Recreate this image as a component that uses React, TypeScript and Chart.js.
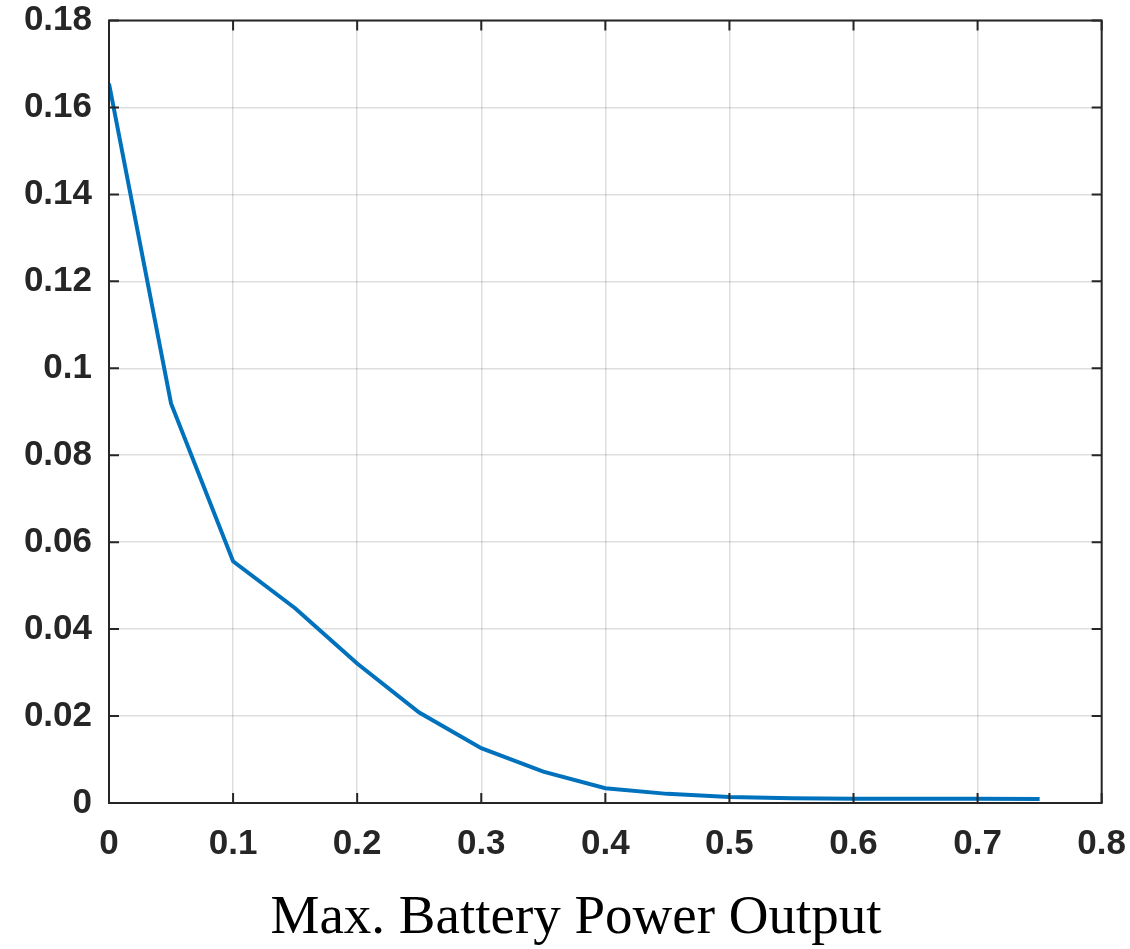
import React, { useEffect, useRef } from "react";
import { Chart, registerables } from "chart.js";

Chart.register(...registerables);

const xValues = [0, 0.05, 0.1, 0.15, 0.2, 0.25, 0.3, 0.35, 0.4, 0.45, 0.5, 0.55, 0.6, 0.65, 0.7, 0.75];
const yValues = [0.1655, 0.0919, 0.0556, 0.0448, 0.0321, 0.0208, 0.0126, 0.0072, 0.0034, 0.0021, 0.0014, 0.0011, 0.001, 0.001, 0.001, 0.0009];
const xTicks = [0, 0.1, 0.2, 0.3, 0.4, 0.5, 0.6, 0.7, 0.8];
const yTicks = [0, 0.02, 0.04, 0.06, 0.08, 0.1, 0.12, 0.14, 0.16, 0.18];
const xTitle = "Max. Battery Power Output";

const AXIS_COLOR = "#262626";
const OFFSET_Y = 14;
const CANVAS_W = 1150;
const CANVAS_H = 949 + OFFSET_Y;

const framePlugin = {
  id: "frame",
  afterDraw(chart: any) {
    const { ctx, chartArea } = chart;
    const { left, right, top, bottom } = chartArea;
    const xs = chart.scales.x;
    const ys = chart.scales.y;
    ctx.save();
    ctx.strokeStyle = AXIS_COLOR;
    ctx.lineWidth = 2;
    ctx.beginPath();
    ctx.rect(left, top, right - left, bottom - top);
    ctx.stroke();
    const tl = 10;
    ctx.beginPath();
    for (const v of xTicks) {
      const px = xs.getPixelForValue(v);
      ctx.moveTo(px, bottom);
      ctx.lineTo(px, bottom - tl);
      ctx.moveTo(px, top);
      ctx.lineTo(px, top + tl);
    }
    for (const v of yTicks) {
      const py = ys.getPixelForValue(v);
      ctx.moveTo(left, py);
      ctx.lineTo(left + tl, py);
      ctx.moveTo(right, py);
      ctx.lineTo(right - tl, py);
    }
    ctx.stroke();
    ctx.fillStyle = "#000";
    ctx.font = '55px "Liberation Serif", serif';
    ctx.textAlign = "center";
    ctx.textBaseline = "middle";
    ctx.fillText(xTitle, 576, 919 + OFFSET_Y);
    ctx.restore();
  },
};

export default function App() {
  const ref = useRef<HTMLCanvasElement | null>(null);
  useEffect(() => {
    if (!ref.current) return;
    const tickFont = { family: '"Liberation Sans", Arial, sans-serif', size: 35, weight: "bold" as const, lineHeight: 1 };
    const chart = new Chart(ref.current, {
      type: "line",
      data: {
        datasets: [
          {
            data: xValues.map((x, i) => ({ x, y: yValues[i] })),
            borderColor: "#0072BD",
            borderWidth: 4,
            pointRadius: 0,
            fill: false,
            tension: 0,
          },
        ],
      },
      options: {
        responsive: false,
        animation: false,
        layout: { padding: { left: 0, right: 0, top: 2, bottom: 0 } },
        plugins: { legend: { display: false }, tooltip: { enabled: false } },
        scales: {
          x: {
            type: "linear",
            min: 0,
            max: 0.8,
            afterBuildTicks: (s: any) => {
              s.ticks = xTicks.map((v) => ({ value: v }));
            },
            afterFit: (s: any) => {
              s.height = 146;
            },
            grid: { color: "rgba(0,0,0,0.13)", lineWidth: 1.5, drawTicks: false },
            border: { display: false },
            ticks: {
              padding: 24,
              color: AXIS_COLOR,
              font: tickFont,
              maxRotation: 0,
              callback: (v: any) => String(Number(v)),
            },
          },
          y: {
            type: "linear",
            min: 0,
            max: 0.18,
            afterBuildTicks: (s: any) => {
              s.ticks = yTicks.map((v) => ({ value: v }));
            },
            afterFit: (s: any) => {
              s.width = 109;
            },
            grid: { color: "rgba(0,0,0,0.13)", lineWidth: 1.5, drawTicks: false },
            border: { display: false },
            ticks: {
              padding: 17,
              color: AXIS_COLOR,
              font: tickFont,
              callback: (v: any) => String(Number(Number(v).toFixed(2))),
            },
          },
        },
      },
      plugins: [framePlugin],
    });
    return () => chart.destroy();
  }, []);
  return (
    <div style={{ position: "fixed", left: 0, top: 0, width: 1130, height: 949, overflow: "hidden", background: "#fff" }}>
      <canvas
        ref={ref}
        width={CANVAS_W}
        height={CANVAS_H}
        style={{ position: "absolute", left: 0, top: -OFFSET_Y }}
      />
    </div>
  );
}
